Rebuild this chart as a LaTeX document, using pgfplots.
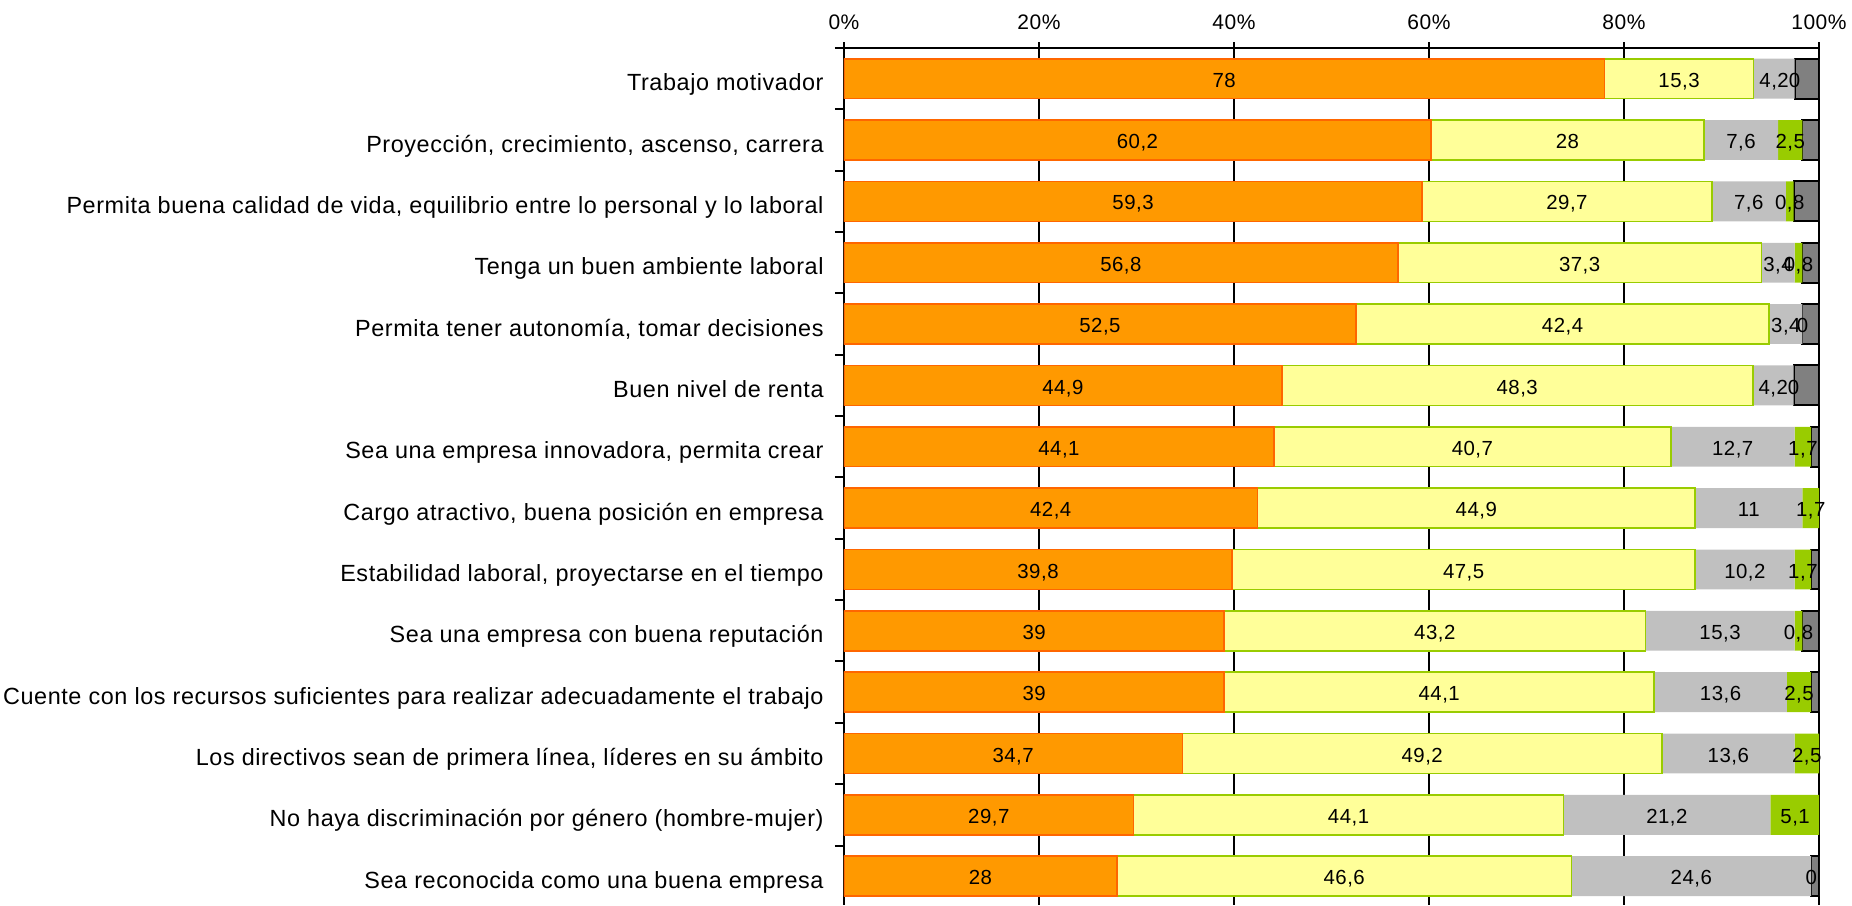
\documentclass[border=0pt]{standalone}
\usepackage{fontspec}
\setmainfont{Liberation Sans}[LetterSpace=2.5]
\usepackage{pgfplots}
\usepackage{pgfplotstable}
\pgfplotsset{compat=1.18}

\definecolor{cOrange}{HTML}{FF9900}
\definecolor{cOrangeEdge}{HTML}{FF6600}
\definecolor{cYellow}{HTML}{FFFF99}
\definecolor{cGreen}{HTML}{99CC00}
\definecolor{cGray}{HTML}{C0C0C0}
\definecolor{cDark}{HTML}{808080}

% a=orange, b=yellow, c=gray, d=green, e=dark gray
\pgfplotstableread{
y a b c d e
1 78 15.3 4.2 0 2.5
2 60.2 28 7.6 2.5 1.7
3 59.3 29.7 7.6 0.8 2.6
4 56.8 37.3 3.4 0.8 1.7
5 52.5 42.4 3.4 0 1.7
6 44.9 48.3 4.2 0 2.6
7 44.1 40.7 12.7 1.7 0.8
8 42.4 44.9 11 1.7 0
9 39.8 47.5 10.2 1.7 0.8
10 39 43.2 15.3 0.8 1.7
11 39 44.1 13.6 2.5 0.8
12 34.7 49.2 13.6 2.5 0
13 29.7 44.1 21.2 5.1 0
14 28 46.6 24.6 0 0.8
}\datos

\pgfplotsset{
  base/.style={
    scale only axis, width=487.5pt, height=428.5pt,
    xmin=0, xmax=100, ymin=0.5, ymax=14.47, y dir=reverse,
  },
  lbl/.style={only marks, mark=none, nodes near coords, point meta=explicit,
    every node near coord/.append style={anchor=base, inner sep=0pt, yshift=-4.3pt,
      font=\fontsize{10.2}{12}\selectfont},
    /pgf/number format/.cd, use comma, fixed, precision=1, assume math mode=true},
}

\begin{document}
\begin{tikzpicture}
\begin{axis}[base, name=bars,
  xbar stacked, bar width=0.65,
  axis x line*=top, axis y line*=left,
  axis line style={line width=1pt},
  xtick={0,20,...,100}, xmajorgrids, major x grid style={black, line width=1pt},
  xticklabel={\pgfmathprintnumber{\tick}\%},
  xticklabel style={font=\fontsize{10.5}{12}\selectfont, inner sep=0pt, yshift=6pt},
  ytick={1,...,14},
  yticklabels={{Trabajo motivador},{Proyección, crecimiento, ascenso, carrera},
    {Permita buena calidad de vida, equilibrio entre lo personal y lo laboral},
    {Tenga un buen ambiente laboral},{Permita tener autonomía, tomar decisiones},
    {Buen nivel de renta},{Sea una empresa innovadora, permita crear},
    {Cargo atractivo, buena posición en empresa},
    {Estabilidad laboral, proyectarse en el tiempo},
    {Sea una empresa con buena reputación},
    {Cuente con los recursos suficientes para realizar adecuadamente el trabajo},
    {Los directivos sean de primera línea, líderes en su ámbito},
    {No haya discriminación por género (hombre-mujer)},
    {Sea reconocida como una buena empresa}},
  yticklabel style={font=\fontsize{11.7}{14}\selectfont, inner sep=0pt,
    anchor=base east, xshift=-7pt, yshift=-6pt},
  minor ytick={0.5,1.5,...,14.5},
  tick align=outside, major tick length=3pt, minor tick length=4.5pt,
  every major y tick/.style={draw=none},
  every tick/.style={black, line width=1pt},
  /pgf/number format/assume math mode=true,
]
\addplot[fill=cOrange, draw=cOrangeEdge, line width=0.8pt] table[x=a, y=y] {\datos};
\addplot[fill=cYellow, draw=cGreen, line width=0.8pt] table[x=b, y=y] {\datos};
\addplot[fill=cGray, draw=none] table[x=c, y=y] {\datos};
\addplot[fill=cGreen, draw=none] table[x=d, y=y] {\datos};
\addplot[fill=cDark, draw=black, line width=1pt] table[x=e, y=y] {\datos};
\end{axis}
\begin{axis}[base, hide axis, clip=false]
\addplot[lbl] table[x expr=\thisrow{a}/2, y=y, meta=a] {\datos};
\addplot[lbl] table[x expr=\thisrow{a}+\thisrow{b}/2, y=y, meta=b] {\datos};
\addplot[lbl] table[x expr=\thisrow{a}+\thisrow{b}+\thisrow{c}/2, y=y, meta=c] {\datos};
\addplot[lbl] table[x expr=\thisrow{a}+\thisrow{b}+\thisrow{c}+\thisrow{d}/2, y=y, meta=d] {\datos};
\end{axis}
\pgfresetboundingbox
\path[use as bounding box] ([xshift=-422pt,yshift=24pt]bars.north west) rectangle ([xshift=16.5pt]bars.south east);
\end{tikzpicture}
\end{document}
